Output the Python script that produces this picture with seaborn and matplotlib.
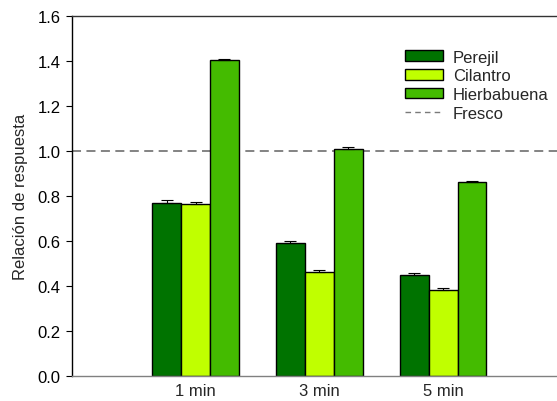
import pandas as pd
import numpy as np
import seaborn as sns
import matplotlib.pyplot as plt
from matplotlib.patches import Patch
from matplotlib.lines import Line2D

# datos
tiempos = ['1 min', '3 min', '5 min']
especies = ['Perejil', 'Cilantro', 'Hierbabuena']
perejil = [0.770, 0.590, 0.450]
cilantro = [0.765, 0.462, 0.382]
hierbabuena = [1.402, 1.007, 0.860]
err_perejil = [0.010, 0.012, 0.010]
err_cilantro = [0.008, 0.008, 0.008]
err_hierbabuena = [0.008, 0.010, 0.008]
fresco = 1.0

colores = ['#007300', '#C0FF00', '#44BB00']

df = pd.DataFrame({
    'Tiempo': tiempos * 3,
    'Especie': np.repeat(especies, 3),
    'Relacion': perejil + cilantro + hierbabuena,
})
errores = [err_perejil, err_cilantro, err_hierbabuena]

sns.set_style('white')
plt.rcParams['font.family'] = ['Liberation Sans', 'DejaVu Sans']

fig = plt.figure(figsize=(5.57, 4.02), dpi=100)
ax = fig.add_axes([0.129, 0.062, 0.871, 0.896])

sns.barplot(data=df, x='Tiempo', y='Relacion', hue='Especie', hue_order=especies,
            order=tiempos, palette=colores, saturation=1, width=0.7,
            edgecolor='black', linewidth=1.0, errorbar=None, legend=False, ax=ax)

# barras de error (solo hacia arriba)
for cont, err in zip(ax.containers, errores):
    xs = [b.get_x() + b.get_width() / 2 for b in cont]
    ys = [b.get_height() for b in cont]
    ax.errorbar(xs, ys, yerr=[np.zeros(len(err)), err], fmt='none',
                ecolor='black', elinewidth=0.8, capsize=4, capthick=0.8)

ax.axhline(fresco, color='#7a7a7a', linestyle=(0, (5, 3)), linewidth=1.3, zorder=0.5)

ax.set_xlim(-1.0, 2.92)
ax.set_ylim(0, 1.6)
ax.set_yticks(np.arange(0, 1.61, 0.2))
ax.set_yticklabels([f'{v:.1f}' for v in np.arange(0, 1.61, 0.2)])
ax.set_xlabel('')
ax.set_ylabel('Relación de respuesta', fontsize=12, labelpad=7)
ax.tick_params(axis='y', direction='out', length=4, width=0.8, left=True,
               labelsize=12, pad=4, colors='black')
ax.tick_params(axis='x', length=0, labelsize=12, pad=5)

ax.spines['right'].set_visible(False)
ax.spines['left'].set_color('black')
ax.spines['top'].set_color('#333333')
ax.spines['bottom'].set_color('#808080')
for s in ['left', 'top', 'bottom']:
    ax.spines[s].set_linewidth(1.0)

handles = [Patch(facecolor=c, edgecolor='black', linewidth=1.0, label=e)
           for c, e in zip(colores, especies)]
handles.append(Line2D([0], [0], color='#7a7a7a', linestyle=(0, (4, 3)),
                      linewidth=1.0, label='Fresco'))
ax.legend(handles=handles, loc='upper left', bbox_to_anchor=(0.672, 0.925),
          frameon=False, fontsize=12, handlelength=2.3, handleheight=0.6,
          labelspacing=0.22, handletextpad=0.6, borderaxespad=0)

fig.savefig('out.png', dpi=100)
